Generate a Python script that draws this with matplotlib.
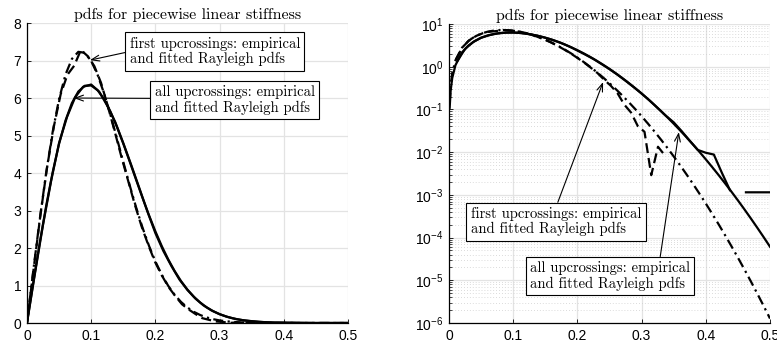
import matplotlib
matplotlib.use("Agg")
import matplotlib.pyplot as plt
import numpy as np

# fitted Rayleigh pdfs, sampled on a fine grid
x_fit = np.r_[0.0, 0.001, 0.0025, 0.005, np.arange(1, 51) * 0.01]
pdf_all_fit = [
    0, 0.110, 0.274, 0.547,
    1.090, 2.144, 3.130, 4.016, 4.779, 5.398, 5.865, 6.173, 6.327, 6.335,
    6.210, 5.972, 5.641, 5.238, 4.787, 4.309, 3.821, 3.340, 2.878, 2.446,
    2.051, 1.698, 1.387, 1.118, 0.8905, 0.7002, 0.5439, 0.4171, 0.3161, 0.2366,
    0.1750, 0.1279, 0.09234, 0.06585, 0.04646, 0.03236, 0.02231, 0.01518, 0.01022, 0.006796,
    0.004468, 0.002905, 0.001865, 0.001185, 7.44e-4, 4.62e-4, 2.832e-4, 1.718e-4, 1.031e-4, 6.11e-5,
]
pdf_first_fit = [
    0, 0.143, 0.357, 0.712,
    1.417, 2.774, 4.016, 5.094, 5.971, 6.624, 7.043, 7.232, 7.207, 6.992,
    6.620, 6.129, 5.554, 4.934, 4.298, 3.674, 3.085, 2.544, 2.063, 1.643,
    1.288, 0.9926, 0.7528, 0.5616, 0.4125, 0.2979, 0.2119, 0.1484, 0.1024, 0.06953,
    0.04646, 0.03059, 0.01984, 0.01268, 0.007970, 0.004939, 0.003015, 0.001813, 0.001074, 6.27e-4,
    3.604e-4, 2.042e-4, 1.139e-4, 6.26e-5, 3.396e-5, 1.813e-5, 9.54e-6, 4.946e-6, 2.526e-6, 1.272e-6,
]

# empirical pdf of all upcrossings (bin width 0.0125)
x_all_emp = np.arange(41) * 0.0125
pdf_all_emp = [
    0, 1.33, 2.62, 3.78, 4.80, 5.50, 6.02, 6.30, 6.36, 6.17,
    5.80, 5.36, 4.80, 4.21, 3.60, 2.98, 2.40, 1.92, 1.52, 1.16,
    0.88, 0.65, 0.47, 0.335, 0.236, 0.162, 0.108, 0.072, 0.050, 0.031,
    0.0185, 0.0113, 0.0097, 0.0088, 0.0033, 0.0013, 0, 0.00115, 0.00115, 0.00115,
    0.00115,
]

# empirical pdf of first upcrossings (bin width 0.0105)
x_first_emp = np.arange(48) * 0.0105
pdf_first_emp = [
    0, 1.46, 2.88, 4.17, 5.25, 6.10, 6.62, 6.86, 7.28, 7.12,
    6.85, 6.40, 5.78, 5.12, 4.44, 3.80, 3.16, 2.58, 2.08, 1.63,
    1.27, 0.96, 0.72, 0.50, 0.36, 0.24, 0.13, 0.085, 0.041, 0.030,
    0.0029, 0.0134, 0.0085, 0, 0, 0, 0, 0, 0, 0,
    0, 0, 0, 0, 0, 0, 0, 0,
]

title = "pdfs for piecewise linear stiffness"
label_first = "first upcrossings: empirical\nand fitted Rayleigh pdfs"
label_all = "all upcrossings: empirical\nand fitted Rayleigh pdfs"

plt.rcParams["font.family"] = ["Liberation Sans", "DejaVu Sans"]
plt.rcParams["mathtext.default"] = "regular"
serif = "cmr10"

dashed = (0, (4.5, 2.2))
dashdot = (0, (4.5, 2, 1, 2))
lw = 1.6

fig = plt.figure(figsize=(7.77, 3.48), dpi=100)
ax1 = fig.add_axes([0.0347, 0.0718, 0.4131, 0.862])
ax2 = fig.add_axes([0.5779, 0.0718, 0.4131, 0.859])


def style(ax):
    for side in ("top", "right"):
        ax.spines[side].set_visible(False)
    for side in ("left", "bottom"):
        ax.spines[side].set_linewidth(0.9)
    ax.tick_params(direction="in", length=3, width=0.6, labelsize=10, pad=4)
    ax.tick_params(which="minor", direction="in", length=2, width=0.5)
    ax.grid(True, which="major", color="#e3e3e3", lw=0.9)
    ax.set_axisbelow(True)
    ax.set_title(title, family=serif, fontsize=11.5, pad=3)
    ax.set_xlim(0, 0.5)
    ax.set_xticks([0, 0.1, 0.2, 0.3, 0.4, 0.5])
    ax.set_xticklabels(["0", "0.1", "0.2", "0.3", "0.4", "0.5"])


def box_note(ax, text, xy, xytext, relpos):
    ax.annotate(
        text, xy=xy, xycoords="data", xytext=xytext, textcoords="axes fraction",
        family=serif, fontsize=10.5, ha="left", va="center", linespacing=1.1,
        bbox=dict(boxstyle="square,pad=0.3", fc="white", ec="black", lw=0.8),
        arrowprops=dict(arrowstyle="->,head_length=0.55,head_width=0.2",
                        color="black", lw=0.8, relpos=relpos, shrinkA=0, shrinkB=0),
    )


# linear scale
ax1.plot(x_fit, pdf_first_fit, color="black", lw=lw, ls=dashdot)
ax1.plot(x_first_emp, pdf_first_emp, color="black", lw=lw, ls=dashed)
ax1.plot(x_fit, pdf_all_fit, color="black", lw=lw)
ax1.plot(x_all_emp, pdf_all_emp, color="black", lw=lw)
style(ax1)
ax1.set_ylim(0, 8)
ax1.set_yticks(range(9))
box_note(ax1, label_first, (0.098, 7.01), (0.320, 0.905), (0, 0.5))
box_note(ax1, label_all, (0.073, 6.0), (0.398, 0.743), (0, 0.56))

# log scale: zero bins leave gaps
def positive(v):
    v = np.asarray(v, dtype=float)
    return np.where(v > 0, v, np.nan)


ax2.set_yscale("log")
ax2.plot(x_fit, positive(pdf_first_fit), color="black", lw=lw, ls=dashdot)
ax2.plot(x_first_emp, positive(pdf_first_emp), color="black", lw=lw, ls=dashed)
ax2.plot(x_fit, positive(pdf_all_fit), color="black", lw=lw)
ax2.plot(x_all_emp, positive(pdf_all_emp), color="black", lw=lw)
style(ax2)
ax2.set_ylim(1e-6, 10)
ax2.yaxis.set_major_locator(matplotlib.ticker.LogLocator(base=10, numticks=10))
ax2.yaxis.set_minor_locator(matplotlib.ticker.LogLocator(base=10, subs=np.arange(2, 10), numticks=10))
ax2.yaxis.set_minor_formatter(matplotlib.ticker.NullFormatter())
ax2.grid(True, which="minor", axis="y", color="#cfcfcf", lw=0.6, ls=(0, (1, 2.5)))
box_note(ax2, label_first, (0.240, 0.44), (0.068, 0.339), (0.5, 1.0))
box_note(ax2, label_all, (0.358, 0.0296), (0.252, 0.157), (0.81, 1.0))

fig.savefig("out.png", dpi=100)
